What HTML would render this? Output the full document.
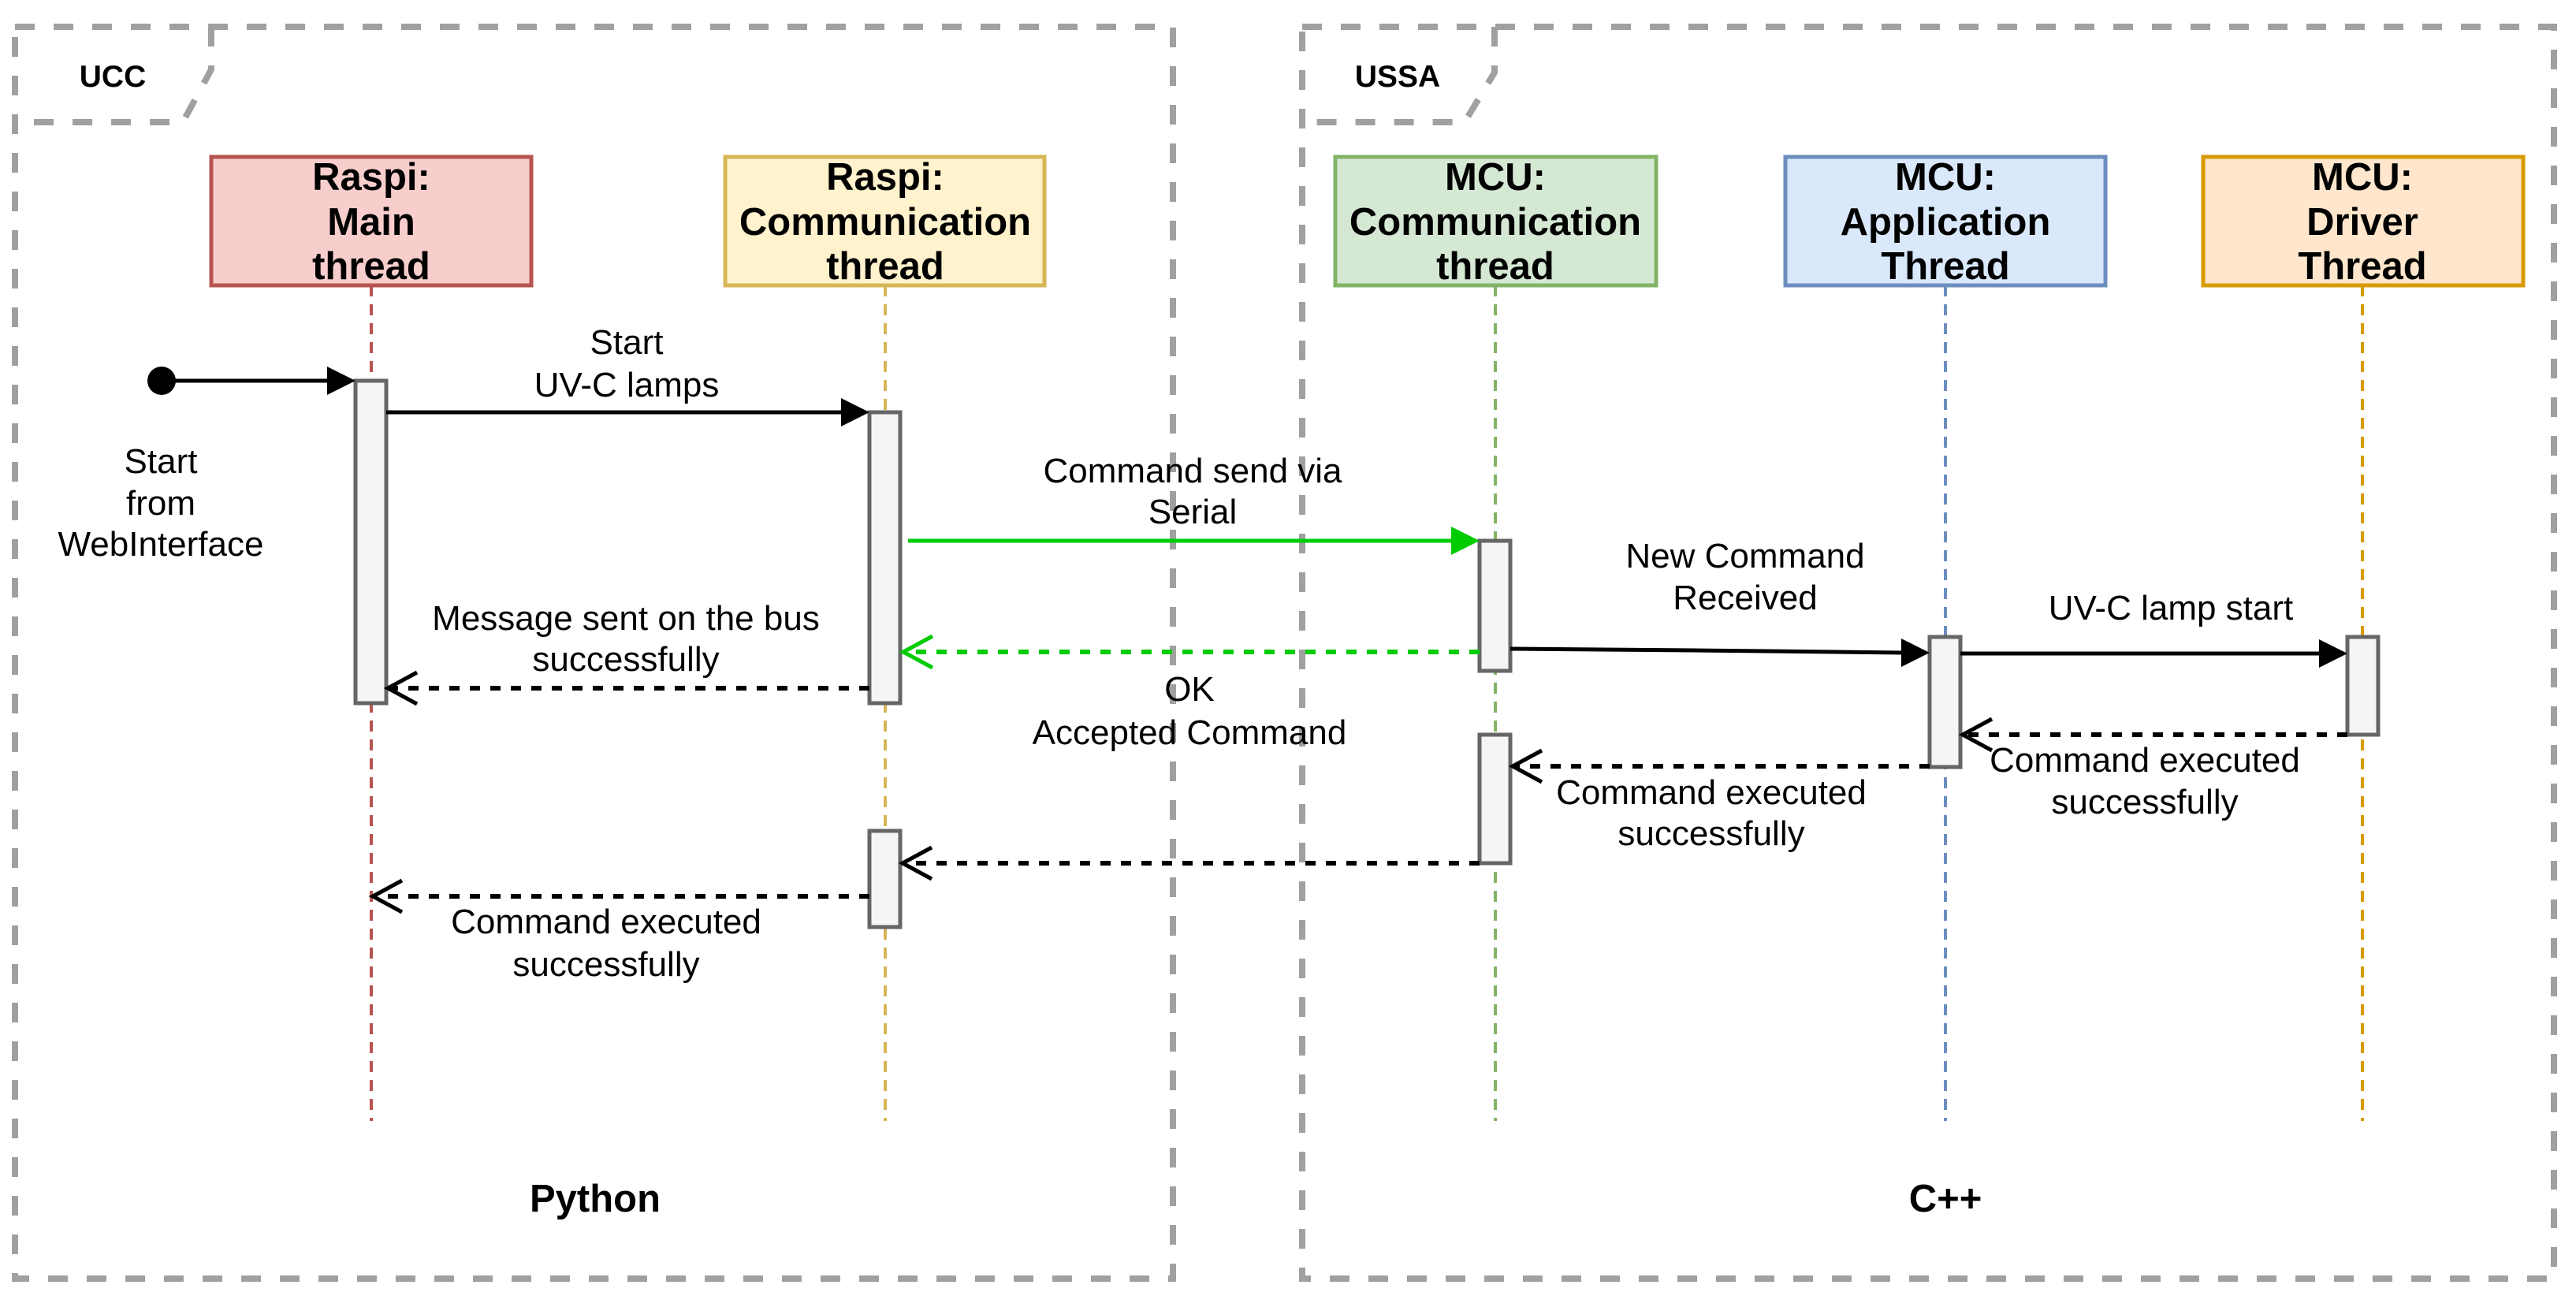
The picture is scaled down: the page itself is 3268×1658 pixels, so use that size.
<!DOCTYPE html>
<html><head><meta charset="utf-8"><style>
html,body{margin:0;padding:0;background:#fff;}
svg{display:block;}
text{font-family:"Liberation Sans",Arial,sans-serif;}
</style></head><body>
<svg width="3268" height="1658" viewBox="0 0 3268 1658" xmlns="http://www.w3.org/2000/svg">
<rect width="3268" height="1658" fill="#fff"/>
<!-- outer frames -->
<g fill="none" stroke="#a0a0a0" stroke-width="8" stroke-dasharray="25 24">
<rect x="19" y="34" width="1469" height="1588"/>
<path d="M268,34 L268,88 L232,155 L19,155"/>
<rect x="1652" y="34" width="1588" height="1588"/>
<path d="M1896,34 L1896,92 L1858,155 L1652,155"/>
</g>
<g font-weight="bold" font-size="39" text-anchor="middle">
<text x="143" y="110">UCC</text>
<text x="1773" y="110">USSA</text>
</g>
<!-- lifelines -->
<g stroke-width="4" stroke-dasharray="14 10" fill="none">
<line x1="471" y1="362" x2="471" y2="1422" stroke="#b85450"/>
<line x1="1123" y1="362" x2="1123" y2="1422" stroke="#d6b656"/>
<line x1="1897" y1="362" x2="1897" y2="1422" stroke="#82b366"/>
<line x1="2468" y1="362" x2="2468" y2="1422" stroke="#6c8ebf"/>
<line x1="2997" y1="362" x2="2997" y2="1422" stroke="#d79b00"/>
</g>
<!-- participant boxes -->
<g stroke-width="5">
<rect x="268" y="199" width="406" height="163" fill="#f8cecc" stroke="#b85450"/>
<rect x="920" y="199" width="405" height="163" fill="#fff2cc" stroke="#d6b656"/>
<rect x="1694" y="199" width="407" height="163" fill="#d5e8d4" stroke="#82b366"/>
<rect x="2265" y="199" width="406" height="163" fill="#dae8fc" stroke="#6c8ebf"/>
<rect x="2795" y="199" width="406" height="163" fill="#ffe6cc" stroke="#d79b00"/>
</g>
<g font-weight="bold" font-size="49" text-anchor="middle">
<text x="471" y="241">Raspi:</text><text x="471" y="298">Main</text><text x="471" y="354">thread</text>
<text x="1123" y="241">Raspi:</text><text x="1123" y="298">Communication</text><text x="1123" y="354">thread</text>
<text x="1897" y="241">MCU:</text><text x="1897" y="298">Communication</text><text x="1897" y="354">thread</text>
<text x="2468" y="241">MCU:</text><text x="2468" y="298">Application</text><text x="2468" y="354">Thread</text>
<text x="2997" y="241">MCU:</text><text x="2997" y="298">Driver</text><text x="2997" y="354">Thread</text>
</g>
<!-- activations -->
<g fill="#f5f5f5" stroke="#666" stroke-width="5">
<rect x="451" y="483" width="39" height="409"/>
<rect x="1103" y="523" width="39" height="369"/>
<rect x="1877" y="686" width="39" height="165"/>
<rect x="2448" y="808" width="39" height="165"/>
<rect x="2978" y="808" width="39" height="124"/>
<rect x="1877" y="932" width="39" height="163"/>
<rect x="1103" y="1054" width="39" height="122"/>
</g>
<!-- solid messages -->
<circle cx="205" cy="483" r="18" fill="#000"/>
<g stroke="#000" stroke-width="5" fill="none">
<line x1="205" y1="483" x2="420" y2="483"/>
<line x1="490" y1="523" x2="1072" y2="523"/>
<path d="M1916,823 L2150,825 L2417,828"/>
<line x1="2487" y1="829" x2="2947" y2="829"/>
</g>
<line x1="1152" y1="686" x2="1846" y2="686" stroke="#00cc00" stroke-width="5"/>
<g fill="#000">
<polygon points="451,483 415,465 415,501"/>
<polygon points="1103,523 1067,505 1067,541"/>
<polygon points="2448,828 2412,810 2412,846"/>
<polygon points="2978,829 2942,811 2942,847"/>
</g>
<polygon points="1877,686 1841,668 1841,704" fill="#00cc00"/>
<!-- dashed returns -->
<g stroke-width="6" stroke-dasharray="13 13" fill="none">
<line x1="1877" y1="827" x2="1148" y2="827" stroke="#00cc00"/>
<line x1="1103" y1="873" x2="494" y2="873" stroke="#000"/>
<line x1="2978" y1="932" x2="2492" y2="932" stroke="#000"/>
<line x1="2448" y1="972" x2="1921" y2="972" stroke="#000"/>
<line x1="1877" y1="1095" x2="1147" y2="1095" stroke="#000"/>
<line x1="1103" y1="1137" x2="476" y2="1137" stroke="#000"/>
</g>
<g stroke-width="5" fill="none">
<path d="M1183,807 L1146,827 L1183,847" stroke="#00cc00"/>
<path d="M529,853 L492,873 L529,893" stroke="#000"/>
<path d="M2527,912 L2490,932 L2527,952" stroke="#000"/>
<path d="M1956,952 L1919,972 L1956,992" stroke="#000"/>
<path d="M1182,1075 L1145,1095 L1182,1115" stroke="#000"/>
<path d="M510,1117 L473,1137 L510,1157" stroke="#000"/>
</g>
<!-- labels -->
<g font-size="44" text-anchor="middle" fill="#000">
<text x="795" y="449">Start</text><text x="795" y="503">UV-C lamps</text>
<text x="204" y="600">Start</text><text x="204" y="653">from</text><text x="204" y="705">WebInterface</text>
<text x="1513" y="612">Command send via</text><text x="1513" y="664">Serial</text>
<text x="794" y="799">Message sent on the bus</text><text x="794" y="851">successfully</text>
<text x="1509" y="889">OK</text><text x="1509" y="944">Accepted Command</text>
<text x="2214" y="720">New Command</text><text x="2214" y="773">Received</text>
<text x="2754" y="786">UV-C lamp start</text>
<text x="2721" y="979">Command executed</text><text x="2721" y="1032">successfully</text>
<text x="2171" y="1020">Command executed</text><text x="2171" y="1072">successfully</text>
<text x="769" y="1184">Command executed</text><text x="769" y="1238">successfully</text>
</g>
<g font-size="49" font-weight="bold" text-anchor="middle">
<text x="755" y="1537">Python</text>
<text x="2468" y="1537">C++</text>
</g>
</svg>
</body></html>
